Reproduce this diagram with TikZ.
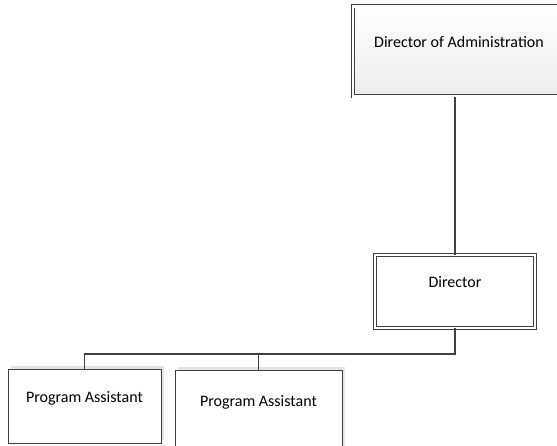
\documentclass[tikz,border=0pt]{standalone}
\usepackage{fontspec}
\setmainfont{Carlito}
\usetikzlibrary{positioning,calc,shadows}
\definecolor{orgLine}{HTML}{404040}
\definecolor{orgShade}{HTML}{E4E4E4}
\definecolor{orgFill}{HTML}{EDEDED}

\tikzset{
  orgtext/.style={font=\fontsize{16}{19}\selectfont, text=black,
    text height=10pt, text depth=17pt, inner sep=0pt},
  headbox/.style={orgtext, draw=orgLine, double=white, line width=0.9pt,
    double distance=2.2pt},
  staffbox/.style={orgtext, draw=orgLine, fill=white, line width=1pt,
    drop shadow={shadow xshift=3pt, shadow yshift=3pt, fill=orgShade, opacity=1}},
  link/.style={orgLine, line width=1.3pt}
}

\begin{document}
\begin{tikzpicture}[x=1pt, y=-1pt]

\useasboundingbox (0,0) rectangle (557,446);

\def\busY{354}     % height of the horizontal bus

% --- TOP LEVEL ---
\node[headbox, preaction={shade, top color=white, bottom color=orgFill},
      minimum width=212pt, minimum height=90pt] (admin)
  at (459, 51.5) {Director of Administration};

% --- MIDDLE LEVEL ---
\node[headbox, fill=white, minimum width=160pt, minimum height=73pt] (dir)
  at (455, 291.5) {Director};

% --- STAFF ---
\node[staffbox, minimum width=153pt, minimum height=74pt] (pa1)
  at (84.5, 406) {Program Assistant};
\node[staffbox, minimum width=167pt, minimum height=80pt] (pa2)
  at (258.5, 410) {Program Assistant};

% --- CONNECTORS ---
\coordinate (bus) at ($(dir.south |- 0,\busY)$);
\draw[link] (admin.south -| dir.north) -- (dir.north);
\draw[link] (dir.south) -- (bus) -| (pa1.north);
\draw[link] (bus) -| (pa2.north);

\end{tikzpicture}
\end{document}
